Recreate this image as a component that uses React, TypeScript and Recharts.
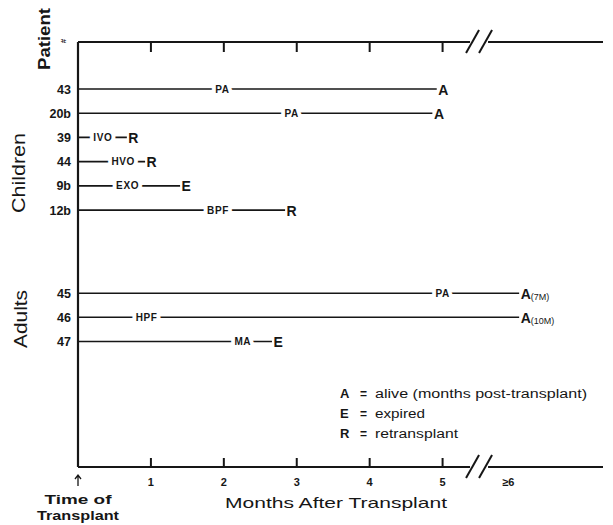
import React from 'react';
import {
  ComposedChart,
  Line,
  Scatter,
  XAxis,
  YAxis,
  ReferenceDot,
  Customized,
} from 'recharts';

// ---------- data ----------
const patientIds = ['43', '20b', '39', '44', '9b', '12b', '45', '46', '47'];
const rowPositions = [1, 2, 3, 4, 5, 6, 9.43, 10.42, 11.42];
const eventLabels = ['PA', 'PA', 'IVO', 'HVO', 'EXO', 'BPF', 'PA', 'HPF', 'MA'];
const eventMonths = [1.98, 2.93, 0.34, 0.62, 0.68, 1.92, 5.0, 0.94, 2.26];
const followUpMonths = [4.92, 4.86, 0.67, 0.92, 1.4, 2.84, 6.05, 6.05, 2.66];
const outcomeCodes = ['A', 'A', 'R', 'R', 'E', 'R', 'A', 'A', 'E'];
const outcomeNotes = ['', '', '', '', '', '', '(7M)', '(10M)', ''];

const monthTicks = [0, 1, 2, 3, 4, 5, 5.9];
const monthTickLabels = ['', '1', '2', '3', '4', '5', '≥6'];
const topTicks = [1, 2, 3, 4, 5];
const breakMonth = 5.5;

const legendCodes = ['A', 'E', 'R'];
const legendTexts = ['alive (months post-transplant)', 'expired', 'retransplant'];

const X_DOMAIN: [number, number] = [0, 7.2];
const Y_DOMAIN: [number, number] = [-0.94, 16.6];

// ---------- layout ----------
const CHART_W = 613;
const CHART_H = 525;
const MARGIN = { top: 41, right: 10, bottom: 0, left: 18 };
const Y_AXIS_W = 60;
const TOP_AXIS_H = 1;
const BOTTOM_AXIS_H = 58;
const PLOT_LEFT = MARGIN.left + Y_AXIS_W;
const PLOT_TOP = MARGIN.top + TOP_AXIS_H;
const PLOT_W = CHART_W - PLOT_LEFT - MARGIN.right;
const xToPx = (v: number) =>
  PLOT_LEFT + ((v - X_DOMAIN[0]) / (X_DOMAIN[1] - X_DOMAIN[0])) * PLOT_W;

// ---------- styling ----------
const INK = '#161616';
const FONT = "'Liberation Sans', Arial, Helvetica, sans-serif";

const lineSeries = patientIds.map((id, i) => ({
  id,
  data: [
    { x: 0, y: rowPositions[i] },
    { x: followUpMonths[i], y: rowPositions[i] },
  ],
}));

const eventData = patientIds.map((id, i) => ({
  x: eventMonths[i],
  y: rowPositions[i],
  label: eventLabels[i],
}));

const outcomeData = patientIds.map((id, i) => ({
  x: followUpMonths[i],
  y: rowPositions[i],
  code: outcomeCodes[i],
  note: outcomeNotes[i],
}));

// ---------- custom renderers ----------
const EventLabel = (props: any) => {
  const { cx, cy, payload } = props;
  if (cx == null || cy == null) return null;
  return (
    <g>
      <text
        x={cx}
        y={cy + 3.5}
        textAnchor="middle"
        fontFamily={FONT}
        fontSize={10}
        fontWeight={700}
        letterSpacing={0.6}
        fill="#fff"
        stroke="#fff"
        strokeWidth={8}
        strokeLinejoin="round"
      >
        {payload.label}
      </text>
      <text
        x={cx}
        y={cy + 3.5}
        textAnchor="middle"
        fontFamily={FONT}
        fontSize={10}
        fontWeight={700}
        letterSpacing={0.6}
        fill={INK}
      >
        {payload.label}
      </text>
    </g>
  );
};

const OutcomeMark = (props: any) => {
  const { cx, cy, payload } = props;
  if (cx == null || cy == null) return null;
  return (
    <text x={cx + 1.5} y={cy + 5.5} fontFamily={FONT} fill={INK}>
      <tspan fontSize={14} fontWeight={700}>
        {payload.code}
      </tspan>
      {payload.note ? (
        <tspan fontSize={9} dy={1}>
          {payload.note}
        </tspan>
      ) : null}
    </text>
  );
};

const PatientTick = (props: any) => {
  const { x, y, payload } = props;
  const i = rowPositions.indexOf(payload.value);
  return (
    <text
      x={x}
      y={y + 4.5}
      textAnchor="end"
      fontFamily={FONT}
      fontSize={12.5}
      fontWeight={700}
      fill={INK}
    >
      {patientIds[i]}
    </text>
  );
};

const BottomTick = (props: any) => {
  const { x, y, payload } = props;
  const v = payload.value;
  const i = monthTicks.indexOf(v);
  if (v === 0) {
    return (
      <g>
        <path
          d={`M${x},${y + 8} L${x},${y + 19} M${x - 3},${y + 12} L${x},${y + 8} L${x + 3},${y + 12}`}
          stroke={INK}
          strokeWidth={1.3}
          fill="none"
        />
        <text
          x={x}
          y={y + 37}
          textAnchor="middle"
          fontFamily={FONT}
          fontSize={13}
          fontWeight={700}
          fill={INK}
          textLength={67}
          lengthAdjust="spacingAndGlyphs"
        >
          Time of
        </text>
        <text
          x={x}
          y={y + 53}
          textAnchor="middle"
          fontFamily={FONT}
          fontSize={13}
          fontWeight={700}
          fill={INK}
          textLength={82}
          lengthAdjust="spacingAndGlyphs"
        >
          Transplant
        </text>
      </g>
    );
  }
  return (
    <g>
      {v <= 5 ? (
        <line x1={x} x2={x} y1={y} y2={y - 9} stroke={INK} strokeWidth={2} />
      ) : null}
      <text
        x={x}
        y={y + 19}
        textAnchor="middle"
        fontFamily={FONT}
        fontSize={11}
        fontWeight={700}
        fill={INK}
      >
        {monthTickLabels[i]}
      </text>
    </g>
  );
};

const BreakMark = (props: any) => {
  const { cx, cy } = props;
  if (cx == null || cy == null) return null;
  return (
    <g>
      <rect x={cx - 9} y={cy - 3} width={18} height={6} fill="#fff" />
      <line x1={cx - 13} y1={cy + 11} x2={cx} y2={cy - 12} stroke={INK} strokeWidth={2} />
      <line x1={cx} y1={cy + 11} x2={cx + 13} y2={cy - 12} stroke={INK} strokeWidth={2} />
    </g>
  );
};

const Annotations = () => (
  <g fontFamily={FONT} fill={INK}>
    {topTicks.map((t) => (
      <rect
        key={`tt${t}`}
        x={xToPx(t) - 1}
        y={PLOT_TOP}
        width={2}
        height={10}
        fill={INK}
      />
    ))}
    <text
      transform="translate(50,39) rotate(-90)"
      textAnchor="middle"
      fontSize={16}
      fontWeight={700}
      textLength={62}
      lengthAdjust="spacingAndGlyphs"
    >
      Patient
    </text>
    <text transform="translate(66,41) rotate(-90)" textAnchor="middle" fontSize={8} fontWeight={700}>
      #
    </text>
    <text
      transform="translate(25,173) rotate(-90)"
      textAnchor="middle"
      fontSize={18}
      textLength={80}
      lengthAdjust="spacingAndGlyphs"
    >
      Children
    </text>
    <text
      transform="translate(27,319) rotate(-90)"
      textAnchor="middle"
      fontSize={18}
      textLength={58}
      lengthAdjust="spacingAndGlyphs"
    >
      Adults
    </text>
    <text
      x={336}
      y={508}
      textAnchor="middle"
      fontSize={15}
      textLength={222}
      lengthAdjust="spacingAndGlyphs"
    >
      Months After Transplant
    </text>
    {legendCodes.map((c, i) => (
      <g key={c}>
        <text x={340} y={398 + i * 20} fontSize={13} fontWeight={700}>
          {c}
        </text>
        <text x={360} y={398 + i * 20} fontSize={12} fontWeight={700}>
          =
        </text>
        <text
          x={375}
          y={398 + i * 20}
          fontSize={12}
          textLength={[212, 50, 83][i]}
          lengthAdjust="spacingAndGlyphs"
        >
          {legendTexts[i]}
        </text>
      </g>
    ))}
  </g>
);

export default function App() {
  const axisLineStyle = { stroke: INK, strokeWidth: 2.2 };
  return (
    <div style={{ position: 'absolute', left: 0, top: 0, background: '#fff' }}>
      <ComposedChart width={CHART_W} height={CHART_H} margin={MARGIN}>
        <XAxis
          xAxisId="top"
          dataKey="x"
          type="number"
          orientation="top"
          domain={X_DOMAIN}
          allowDataOverflow
          height={TOP_AXIS_H}
          tickSize={0}
          tickMargin={0}
          tickLine={false}
          axisLine={axisLineStyle}
          tick={false}
        />
        <YAxis
          type="number"
          domain={Y_DOMAIN}
          allowDataOverflow
          reversed
          ticks={rowPositions}
          interval={0}
          width={Y_AXIS_W}
          tickSize={0}
          tickMargin={7}
          tickLine={false}
          axisLine={axisLineStyle}
          tick={<PatientTick />}
        />
        <YAxis
          yAxisId="right"
          orientation="right"
          type="number"
          domain={[0, 1]}
          width={0}
          tick={false}
          tickLine={false}
          axisLine={axisLineStyle}
        />
        {lineSeries.map((s) => (
          <Line
            key={s.id}
            data={s.data}
            dataKey="y"
            stroke={INK}
            strokeWidth={1.7}
            dot={false}
            activeDot={false}
            isAnimationActive={false}
          />
        ))}
        <Scatter
          data={eventData}
          dataKey="y"
          fill={INK}
          shape={<EventLabel />}
          isAnimationActive={false}
        />
        <Scatter
          data={outcomeData}
          dataKey="y"
          fill={INK}
          shape={<OutcomeMark />}
          isAnimationActive={false}
        />
        <XAxis
          dataKey="x"
          type="number"
          domain={X_DOMAIN}
          allowDataOverflow
          ticks={monthTicks}
          interval={0}
          height={BOTTOM_AXIS_H}
          tickSize={0}
          tickMargin={0}
          tickLine={false}
          axisLine={axisLineStyle}
          tick={<BottomTick />}
        />
        <ReferenceDot
          x={breakMonth}
          y={Y_DOMAIN[0]}
          ifOverflow="visible"
          shape={<BreakMark />}
        />
        <ReferenceDot
          x={breakMonth}
          y={Y_DOMAIN[1]}
          ifOverflow="visible"
          shape={<BreakMark />}
        />
        <Customized component={<Annotations />} />
      </ComposedChart>
    </div>
  );
}
